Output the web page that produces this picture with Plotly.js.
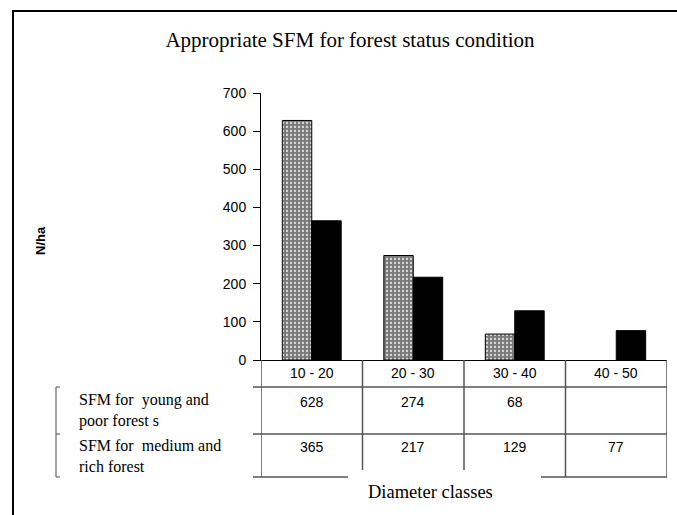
<!DOCTYPE html>
<html>
<head>
<meta charset="utf-8">
<script src="https://cdn.plot.ly/plotly-3.0.1.min.js"></script>
<style>
  html, body { margin: 0; padding: 0; background: #fff; }
  #chart { width: 677px; height: 515px; }
</style>
</head>
<body>
<div id="chart"></div>
<script>
// Stems per hectare by diameter class for two management options
const diameterClasses = ['10 - 20', '20 - 30', '30 - 40', '40 - 50'];
const youngPoorForest = [628, 274, 68, null];
const mediumRichForest = [365, 217, 129, 77];
const seriesLabels = ['SFM for  young and<br>poor forest s', 'SFM for  medium and<br>rich forest'];
const yTicks = [0, 100, 200, 300, 400, 500, 600, 700];

const W = 677, H = 515;
const M = { l: 261, r: 10, t: 93, b: 155 };
const PW = W - M.l - M.r, PH = H - M.t - M.b;
// pixel -> paper helpers for the data table drawn under the plot
const fx = p => (p - M.l) / PW;
const fy = p => (H - M.b - p) / PH;

const SANS = 'Liberation Sans, Arial, sans-serif';
const SERIF = 'Liberation Serif, Times New Roman, serif';

const traces = [
  {
    type: 'bar', name: seriesLabels[0].replace('<br>', ' '),
    x: diameterClasses.map((_, i) => i), y: youngPoorForest,
    marker: {
      color: '#7a7a7a',
      line: { color: '#000', width: 1 },
      pattern: { shape: '.', bgcolor: '#7a7a7a', fgcolor: '#dcdcdc', size: 4, solidity: 0.25, fillmode: 'replace' }
    },
    hoverinfo: 'skip'
  },
  {
    type: 'bar', name: seriesLabels[1].replace('<br>', ' '),
    x: diameterClasses.map((_, i) => i), y: mediumRichForest,
    marker: { color: '#000', line: { color: '#000', width: 1 } },
    hoverinfo: 'skip'
  }
];

const lineStyle = { color: '#555', width: 1.5 };
const shapes = [];
// outer frame
shapes.push({ type: 'rect', xref: 'paper', yref: 'paper', x0: fx(13), x1: fx(800), y0: fy(11), y1: fy(600),
  line: { color: '#000', width: 2 } });
// table column separators
for (let i = 0; i <= diameterClasses.length; i++) {
  const inner = (i === 1 || i === 2);
  shapes.push({ type: 'line', xref: 'x', yref: 'paper', x0: i - 0.5, x1: i - 0.5, y0: fy(360), y1: fy(inner ? 470 : 477),
    line: lineStyle });
}
// table row separators
[387, 434].forEach(py => shapes.push({ type: 'line', xref: 'paper', yref: 'paper', x0: fx(253), x1: 1, y0: fy(py), y1: fy(py), line: lineStyle }));
shapes.push({ type: 'line', xref: 'paper', yref: 'paper', x0: fx(253), x1: fx(348), y0: fy(477), y1: fy(477), line: lineStyle });
shapes.push({ type: 'line', xref: 'paper', yref: 'paper', x0: fx(541), x1: 1, y0: fy(477), y1: fy(477), line: lineStyle });
// bracket around the row labels
shapes.push({ type: 'line', xref: 'paper', yref: 'paper', x0: fx(56), x1: fx(56), y0: fy(387), y1: fy(477), line: { color: '#666', width: 1.2 } });
[387, 434, 477].forEach(py => shapes.push({ type: 'line', xref: 'paper', yref: 'paper', x0: fx(56), x1: fx(60), y0: fy(py), y1: fy(py), line: { color: '#666', width: 1.2 } }));

const annotations = [];
diameterClasses.forEach((c, i) => {
  annotations.push({ xref: 'x', yref: 'paper', x: i, y: fy(373), text: c, showarrow: false,
    xanchor: 'center', yanchor: 'middle', font: { family: SANS, size: 14, color: '#000' } });
});
[youngPoorForest, mediumRichForest].forEach((series, r) => {
  series.forEach((v, i) => {
    if (v === null) return;
    annotations.push({ xref: 'x', yref: 'paper', x: i, y: fy(r === 0 ? 402 : 447), text: String(v), showarrow: false,
      xanchor: 'center', yanchor: 'middle', font: { family: SANS, size: 14, color: '#000' } });
  });
});
seriesLabels.forEach((t, r) => {
  annotations.push({ xref: 'paper', yref: 'paper', x: fx(77), y: fy(r === 0 ? 410 : 456), text: t, showarrow: false,
    xanchor: 'left', yanchor: 'middle', align: 'left', font: { family: SERIF, size: 16, color: '#000' } });
});
annotations.push({ xref: 'paper', yref: 'paper', x: fx(430), y: fy(492), text: 'Diameter classes', showarrow: false,
  xanchor: 'center', yanchor: 'middle', font: { family: SERIF, size: 18.5, color: '#000' } });
annotations.push({ xref: 'paper', yref: 'paper', x: fx(40), y: fy(241), text: '<b>N/ha</b>', textangle: -90, showarrow: false,
  xanchor: 'center', yanchor: 'middle', font: { family: SANS, size: 13, color: '#000' } });

const layout = {
  width: W, height: H,
  margin: M,
  paper_bgcolor: '#fff', plot_bgcolor: '#fff',
  showlegend: false,
  barmode: 'group', bargap: 0.42, bargroupgap: 0,
  title: {
    text: 'Appropriate SFM for forest status condition',
    font: { family: SERIF, size: 21, color: '#000' },
    x: 350 / W, xanchor: 'center', xref: 'container',
    y: 1 - 40 / H, yanchor: 'middle', yref: 'container'
  },
  xaxis: {
    range: [-0.5, 3.5], showticklabels: false, ticks: '', showgrid: false, zeroline: false,
    showline: true, linecolor: '#000', linewidth: 1, fixedrange: true
  },
  yaxis: {
    range: [0, 700], tickvals: yTicks, ticktext: yTicks.map(String),
    ticks: 'outside', ticklen: 7, tickcolor: '#000', tickwidth: 1, ticklabelstandoff: 4,
    showline: true, linecolor: '#000', linewidth: 1, showgrid: false, zeroline: false,
    tickfont: { family: SANS, size: 14, color: '#000' }, fixedrange: true
  },
  shapes: shapes,
  annotations: annotations
};

Plotly.newPlot('chart', traces, layout, { displayModeBar: false, staticPlot: true });
</script>
</body>
</html>
